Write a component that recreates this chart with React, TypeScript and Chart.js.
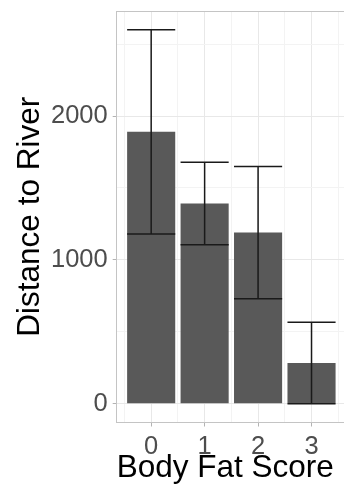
import React, { useEffect, useRef } from "react";
import { Chart, registerables } from "chart.js";

Chart.register(...registerables);

// ---- data ----
const categories = [0, 1, 2, 3];
const categoryLabels = ["0", "1", "2", "3"];
const meanDistance = [1890, 1392, 1190, 283];
const sdDistance = [710, 287, 460, 283];
const yMajorTicks = [0, 1000, 2000];
const yMinorTicks = [500, 1500, 2500];
const xMinorTicks = [-0.5, 0.5, 1.5, 2.5, 3.5];
const xRange = [-0.645, 3.645];
const yRange = [-130, 2730];
const xTitle = "Body Fat Score";
const yTitle = "Distance to River";

const FONT = "'Liberation Sans', Arial, Helvetica, sans-serif";
const TICK_COLOR = "#4d4d4d";
const MAJOR_GRID = "#e8e8e8";
const MINOR_GRID = "#f3f3f3";
const BORDER = "#c4c4c4";
const TICK_MARK = "#b3b3b3";

const errorBarPlugin = {
  id: "errorBars",
  afterDatasetsDraw(chart: any) {
    const meta = chart.getDatasetMeta(0);
    const yScale = chart.scales.y;
    const ctx = chart.ctx;
    ctx.save();
    ctx.strokeStyle = "#1a1a1a";
    ctx.lineWidth = 1.5;
    meta.data.forEach((bar: any, i: number) => {
      const { x, width } = bar.getProps(["x", "width"], true);
      const top = yScale.getPixelForValue(meanDistance[i] + sdDistance[i]);
      const bottom = yScale.getPixelForValue(meanDistance[i] - sdDistance[i]);
      const l = x - width / 2;
      const r = x + width / 2;
      ctx.beginPath();
      ctx.moveTo(l, top);
      ctx.lineTo(r, top);
      ctx.moveTo(x, top);
      ctx.lineTo(x, bottom);
      ctx.moveTo(l, bottom);
      ctx.lineTo(r, bottom);
      ctx.stroke();
    });
    ctx.restore();
  },
};

export default function App() {
  const canvasRef = useRef<HTMLCanvasElement | null>(null);

  useEffect(() => {
    if (!canvasRef.current) return;
    const chart = new Chart(canvasRef.current, {
      type: "bar",
      data: {
        datasets: [
          {
            data: categories.map((c, i) => ({ x: c, y: meanDistance[i] })),
            backgroundColor: "#595959",
            borderWidth: 0,
            barPercentage: 0.9,
            categoryPercentage: 1.0,
            xAxisID: "x",
            yAxisID: "y",
          },
        ],
      },
      options: {
        animation: false,
        responsive: false,
        layout: { padding: { top: 11, left: 0, right: 0, bottom: 0 } },
        plugins: { legend: { display: false }, tooltip: { enabled: false } },
        scales: {
          x: {
            type: "linear",
            position: "bottom",
            min: xRange[0],
            max: xRange[1],
            offset: false,
            afterBuildTicks: (s: any) => {
              s.ticks = categories.map((v) => ({ value: v }));
            },
            afterFit: (s: any) => {
              s.height = 486 - 422.5;
              s.paddingLeft = 0;
              s.paddingRight = 0;
            },
            ticks: {
              autoSkip: false,
              maxRotation: 0,
              color: TICK_COLOR,
              padding: 5,
              font: { family: FONT, size: 25.5 },
              callback: (v: any) => {
                const idx = categories.indexOf(Number(v));
                return idx >= 0 ? categoryLabels[idx] : "";
              },
            },
            grid: {
              color: MAJOR_GRID,
              lineWidth: 1,
              offset: false,
              drawTicks: true,
              tickLength: 4,
              tickColor: TICK_MARK,
            },
            border: { display: true, color: BORDER, width: 1 },
            title: {
              display: true,
              text: xTitle,
              align: "start",
              color: "#000000",
              font: { family: FONT, size: 31.5, lineHeight: 1 },
              padding: { top: 0, bottom: 2 },
            },
          },
          xMinor: {
            type: "linear",
            position: "top",
            min: xRange[0],
            max: xRange[1],
            offset: false,
            afterBuildTicks: (s: any) => {
              s.ticks = xMinorTicks.map((v) => ({ value: v }));
            },
            afterFit: (s: any) => {
              s.height = 0;
              s.paddingLeft = 0;
              s.paddingRight = 0;
            },
            ticks: { display: false },
            grid: { color: MINOR_GRID, lineWidth: 1, offset: false, drawTicks: false },
            border: { display: true, color: BORDER, width: 1 },
          },
          y: {
            type: "linear",
            position: "left",
            min: yRange[0],
            max: yRange[1],
            afterBuildTicks: (s: any) => {
              s.ticks = yMajorTicks.map((v) => ({ value: v }));
            },
            afterFit: (s: any) => {
              s.width = 116.7;
              s.paddingTop = 0;
              s.paddingBottom = 0;
            },
            ticks: {
              color: TICK_COLOR,
              padding: 5,
              font: { family: FONT, size: 25.5 },
              callback: (v: any) => String(v),
            },
            grid: {
              color: MAJOR_GRID,
              lineWidth: 1,
              drawTicks: true,
              tickLength: 4,
              tickColor: TICK_MARK,
            },
            border: { display: true, color: BORDER, width: 1 },
            title: {
              display: true,
              text: yTitle,
              color: "#000000",
              font: { family: FONT, size: 31.5, lineHeight: 1 },
              padding: { top: 14.25, bottom: 0 },
            },
          },
          yMinor: {
            type: "linear",
            position: "right",
            min: yRange[0],
            max: yRange[1],
            afterBuildTicks: (s: any) => {
              s.ticks = yMinorTicks.map((v) => ({ value: v }));
            },
            afterFit: (s: any) => {
              s.width = 0;
              s.paddingTop = 0;
              s.paddingBottom = 0;
            },
            ticks: { display: false },
            grid: { color: MINOR_GRID, lineWidth: 1, drawTicks: false },
            border: { display: false },
          },
        },
      } as any,
      plugins: [errorBarPlugin],
    });
    return () => chart.destroy();
  }, []);

  return (
    <div
      style={{
        position: "fixed",
        left: 0,
        top: 0,
        width: 344,
        height: 486,
        overflow: "hidden",
        background: "#ffffff",
      }}
    >
      <canvas ref={canvasRef} width={346} height={486} style={{ display: "block" }} />
    </div>
  );
}
